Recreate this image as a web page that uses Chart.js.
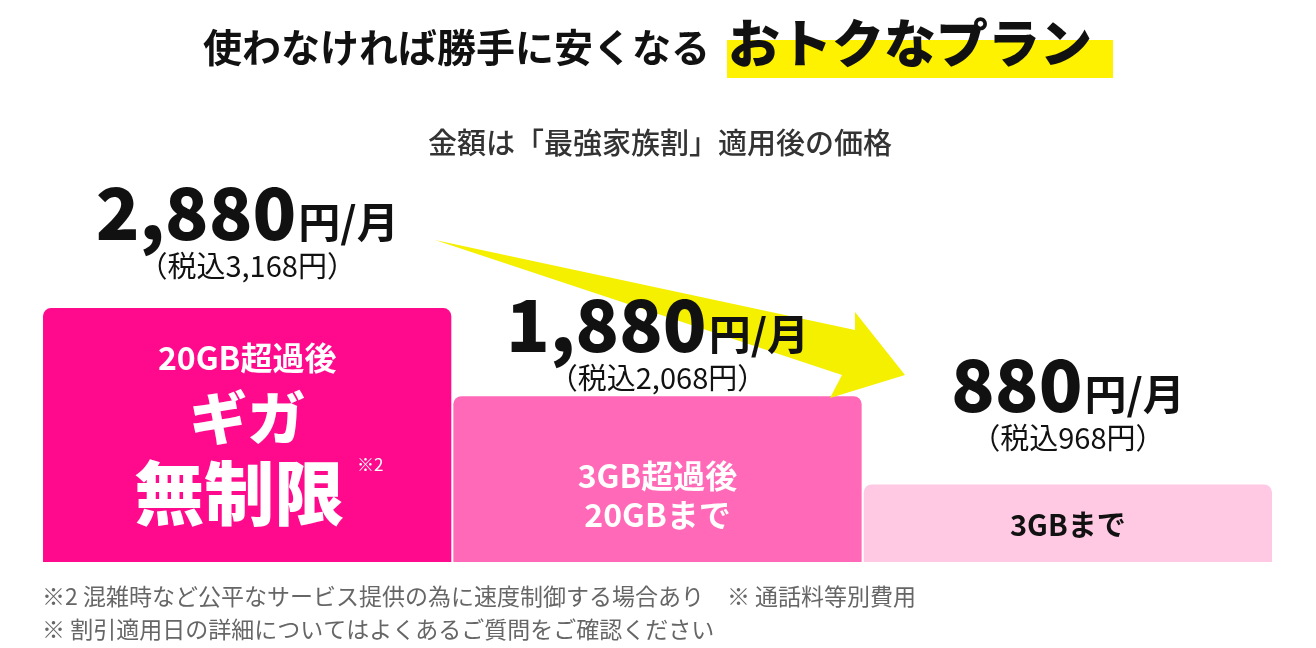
<!DOCTYPE html>
<html><head><meta charset="utf-8">
<script src="https://cdn.jsdelivr.net/npm/chart.js@4/dist/chart.umd.min.js"></script>
<style>
html,body{margin:0;padding:0;background:#fff;}
#wrap{width:1316px;height:648px;position:relative;}
</style></head>
<body><div id="wrap"><canvas id="c" width="1316" height="648"></canvas></div>
<script>
const plans = ["2,880", "1,880", "880"];
const prices = [2880, 1880, 880];
const taxIncl = ["3,168", "2,068", "968"];
const barLines = [["20GB超過後", "ギガ", "無制限"], ["3GB超過後", "20GBまで"], ["3GBまで"]];
const barColors = ["#ff0a8c", "#ff69b7", "#ffc8e3"];

const F = '"Noto Sans CJK JP", "Noto Sans", sans-serif';

const labels = {
  id: "labels",
  afterDatasetsDraw(chart) {
    const ctx = chart.ctx;
    const meta = chart.getDatasetMeta(0);
    ctx.save();
    ctx.textBaseline = "alphabetic";

    // title
    ctx.fillStyle = "#fff200";
    ctx.fillRect(727, 40, 386, 38);
    ctx.fillStyle = "#111";
    ctx.textAlign = "left";
    ctx.font = "bold 39px " + F;
    ctx.fillText("使わなければ勝手に安くなる", 203, 62);
    ctx.font = "900 52px " + F;
    ctx.fillText("おトクなプラン", 728, 63);
    ctx.fillStyle = "#333";
    ctx.textAlign = "center";
    ctx.font = "500 29px " + F;
    ctx.fillText("金額は「最強家族割」適用後の価格", 660, 154);

    // arrow
    ctx.fillStyle = "#f5ef00";
    ctx.beginPath();
    ctx.moveTo(435, 240);
    ctx.lineTo(855, 330);
    ctx.lineTo(855, 312);
    ctx.lineTo(905, 375);
    ctx.lineTo(830, 398);
    ctx.lineTo(842, 375);
    ctx.closePath();
    ctx.fill();

    meta.data.forEach((bar, i) => {
      const cx = bar.x, top = bar.y;
      const py = [240, 352, 412][i];
      // price
      ctx.fillStyle = "#111";
      ctx.font = "900 72px " + F;
      const w1 = ctx.measureText(plans[i]).width;
      ctx.font = "bold 42px " + F;
      const w2 = ctx.measureText("円/月").width;
      let x0 = cx - (w1 + w2 + 2) / 2;
      ctx.textAlign = "left";
      ctx.font = "900 72px " + F;
      ctx.fillText(plans[i], x0, py);
      ctx.font = "bold 42px " + F;
      ctx.fillText("円/月", x0 + w1 + 2, py - 2);
      ctx.textAlign = "center";
      ctx.font = "29px " + F;
      ctx.fillText("（税込" + taxIncl[i] + "円）", cx, py + 37);

      // bar text
      const lines = barLines[i];
      if (i === 0) {
        ctx.fillStyle = "#fff";
        ctx.font = "bold 32px " + F;
        ctx.fillText(lines[0], cx, top + 62);
        ctx.font = "900 58px " + F;
        ctx.fillText(lines[1], cx, top + 132);
        ctx.font = "900 70px " + F;
        ctx.fillText(lines[2], cx - 8, top + 212);
        ctx.font = "17px " + F;
        ctx.fillText("※2", cx + 123, top + 163);
      } else if (i === 1) {
        ctx.fillStyle = "#fff";
        ctx.font = "bold 32px " + F;
        ctx.fillText(lines[0], bar.x, 488);
        ctx.fillText(lines[1], bar.x, 527);
      } else {
        ctx.fillStyle = "#111";
        ctx.font = "bold 29px " + F;
        ctx.fillText(lines[0], cx, top + 52);
      }
    });

    // footnotes
    ctx.fillStyle = "#666";
    ctx.textAlign = "left";
    ctx.font = "23px " + F;
    ctx.fillText("※2 混雑時など公平なサービス提供の為に速度制御する場合あり　※ 通話料等別費用", 42, 605);
    ctx.fillText("※ 割引適用日の詳細についてはよくあるご質問をご確認ください", 42, 638);
    ctx.restore();
  }
};

new Chart(document.getElementById("c"), {
  type: "bar",
  data: {
    labels: plans,
    datasets: [{
      data: prices,
      backgroundColor: barColors,
      borderRadius: { topLeft: 8, topRight: 8, bottomLeft: 0, bottomRight: 0 },
      borderSkipped: "bottom",
      barPercentage: 0.995,
      categoryPercentage: 1
    }]
  },
  options: {
    responsive: false,
    animation: false,
    layout: { padding: { left: 42, right: 43, top: 100, bottom: 86 } },
    scales: {
      x: { display: false },
      y: { display: false, min: 0, max: 5240 }
    },
    plugins: { legend: { display: false }, tooltip: { enabled: false } }
  },
  plugins: [labels]
});
</script></body></html>
